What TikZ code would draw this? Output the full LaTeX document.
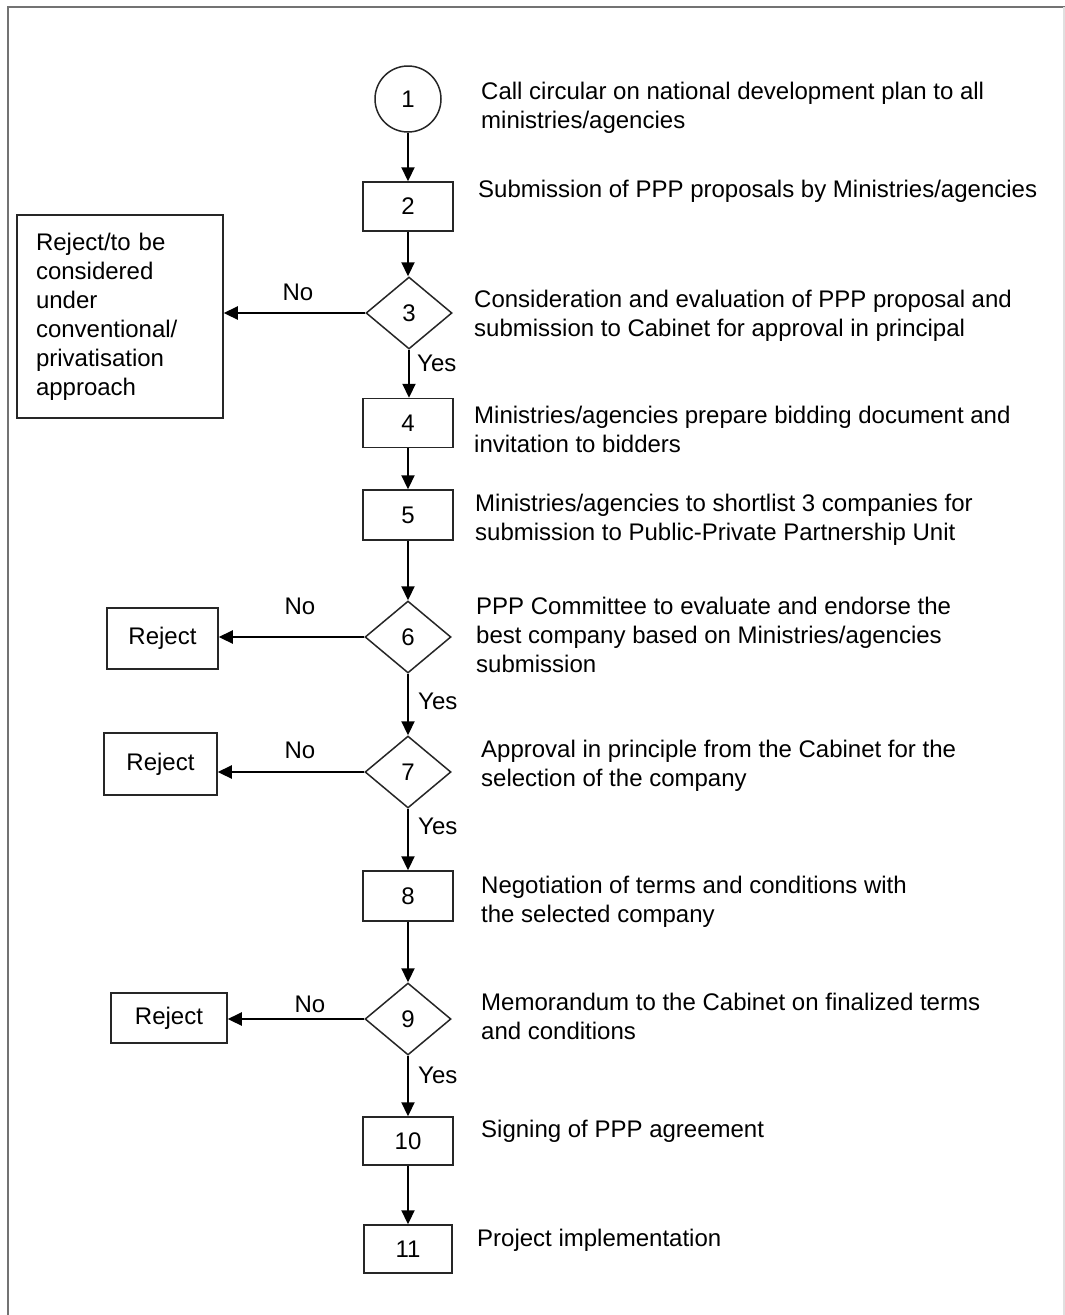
\documentclass[tikz,border=0pt]{standalone}
\usepackage{fontspec}
\setmainfont{Liberation Sans}
\usetikzlibrary{arrows.meta,shapes.geometric}
\begin{document}
\begin{tikzpicture}[x=1pt,y=-1pt,
  every node/.style={font=\fontsize{24}{29}\selectfont},
  stepbox/.style={draw=black!85,line width=1.5pt,rectangle,minimum width=90pt,minimum height=49pt,inner sep=0pt},
  startnode/.style={draw=black!85,line width=1.5pt,circle,minimum size=66pt,inner sep=0pt},
  decision/.style={draw=black!85,line width=1.5pt,diamond,minimum width=86pt,minimum height=72pt,inner sep=0pt},
  rejectbox/.style={draw=black!85,line width=1.5pt,rectangle,inner sep=0pt},
  desc/.style={anchor=west,align=left,inner sep=0pt},
  lbl/.style={inner sep=0pt},
  flow/.style={line width=2.2pt,-{Triangle[length=14pt,width=13pt]}}
]
\useasboundingbox (0,0) rectangle (1065,1315);
\fill[white] (0,0) rectangle (1065,1315);
% page frame
\draw[line width=2.4pt,black!55] (8,1315) -- (8,7) -- (1065,7);
\draw[line width=1.5pt,black!12] (1064,7) -- (1064,1315);

% main column
\node[startnode] (n1) at (408,99) {1};
\node[stepbox] (n2) at (408,206.5) {2};
\node[decision] (n3) at (409,313) {3};
\node[stepbox] (n4) at (408,423) {4};
\node[stepbox,minimum height=50pt] (n5) at (408,515) {5};
\node[decision] (n6) at (408,637) {6};
\node[decision] (n7) at (408,772) {7};
\node[stepbox,minimum height=50pt] (n8) at (408,896) {8};
\node[decision] (n9) at (408,1019) {9};
\node[stepbox,minimum height=48pt] (n10) at (408,1141) {10};
\node[stepbox,minimum width=88pt,minimum height=48pt] (n11) at (408,1249) {11};

% side outcomes
\node[rejectbox,minimum width=206pt,minimum height=203pt,text width=168pt,align=left] (r3) at (120,316.5)
  {Reject/to be\\considered\\under\\conventional/\\privatisation\\approach};
\node[rejectbox,minimum width=111pt,minimum height=61pt] (r6) at (162.5,638.5) {Reject};
\node[rejectbox,minimum width=113pt,minimum height=62pt] (r7) at (160.5,764) {Reject};
\node[rejectbox,minimum width=116pt,minimum height=50pt] (r9) at (169,1018) {Reject};

% descriptions
\node[desc] (d1) at (481,107.5) {Call circular on national development plan to all\\ministries/agencies};
\node[desc] (d2) at (478,191) {Submission of PPP proposals by Ministries/agencies};
\node[desc] (d3) at (474,315.5) {Consideration and evaluation of PPP proposal and\\submission to Cabinet for approval in principal};
\node[desc] (d4) at (474,429.5) {Ministries/agencies prepare bidding document and\\invitation to bidders};
\node[desc] (d5) at (475,519.5) {Ministries/agencies to shortlist 3 companies for\\submission to Public-Private Partnership Unit};
\node[desc] (d6) at (476,635) {PPP Committee to evaluate and endorse the\\best company based on Ministries/agencies\\submission};
\node[desc] (d7) at (481,765.5) {Approval in principle from the Cabinet for the\\selection of the company};
\node[desc] (d8) at (481,901.5) {Negotiation of terms and conditions with\\the selected company};
\node[desc] (d9) at (481,1016.5) {Memorandum to the Cabinet on finalized terms\\and conditions};
\node[desc] (d10) at (481,1131) {Signing of PPP agreement};
\node[desc] (d11) at (477,1240) {Project implementation};

% vertical flow
\draw[flow] (n1) -- (n2);
\draw[flow] (n2) -- (n2 |- n3.north);
\draw[flow] (n3.south) -- (n3.south |- n4.north);
\draw[flow] (n4) -- (n5);
\draw[flow] (n5) -- (n6);
\draw[flow] (n6) -- (n7);
\draw[flow] (n7) -- (n8);
\draw[flow] (n8) -- (n9);
\draw[flow] (n9) -- (n10);
\draw[flow] (n10) -- (n11);

% rejections
\draw[flow] (n3.west) -- (r3.east |- n3.west);
\draw[flow] (n6.west) -- (r6.east |- n6.west);
\draw[flow] (n7.west) -- (r7.east |- n7.west);
\draw[flow] (n9.west) -- (r9.east |- n9.west);

% branch labels
\node[lbl] (no3) at (298,292) {No};
\node[lbl] (no6) at (300,606) {No};
\node[lbl] (no7) at (300,750) {No};
\node[lbl] (no9) at (310,1004) {No};
\node[lbl,anchor=west] (yes3) at (417,363) {Yes};
\node[lbl,anchor=west] (yes6) at (418,701) {Yes};
\node[lbl,anchor=west] (yes7) at (418,826) {Yes};
\node[lbl,anchor=west] (yes9) at (418,1075) {Yes};
\end{tikzpicture}
\end{document}
